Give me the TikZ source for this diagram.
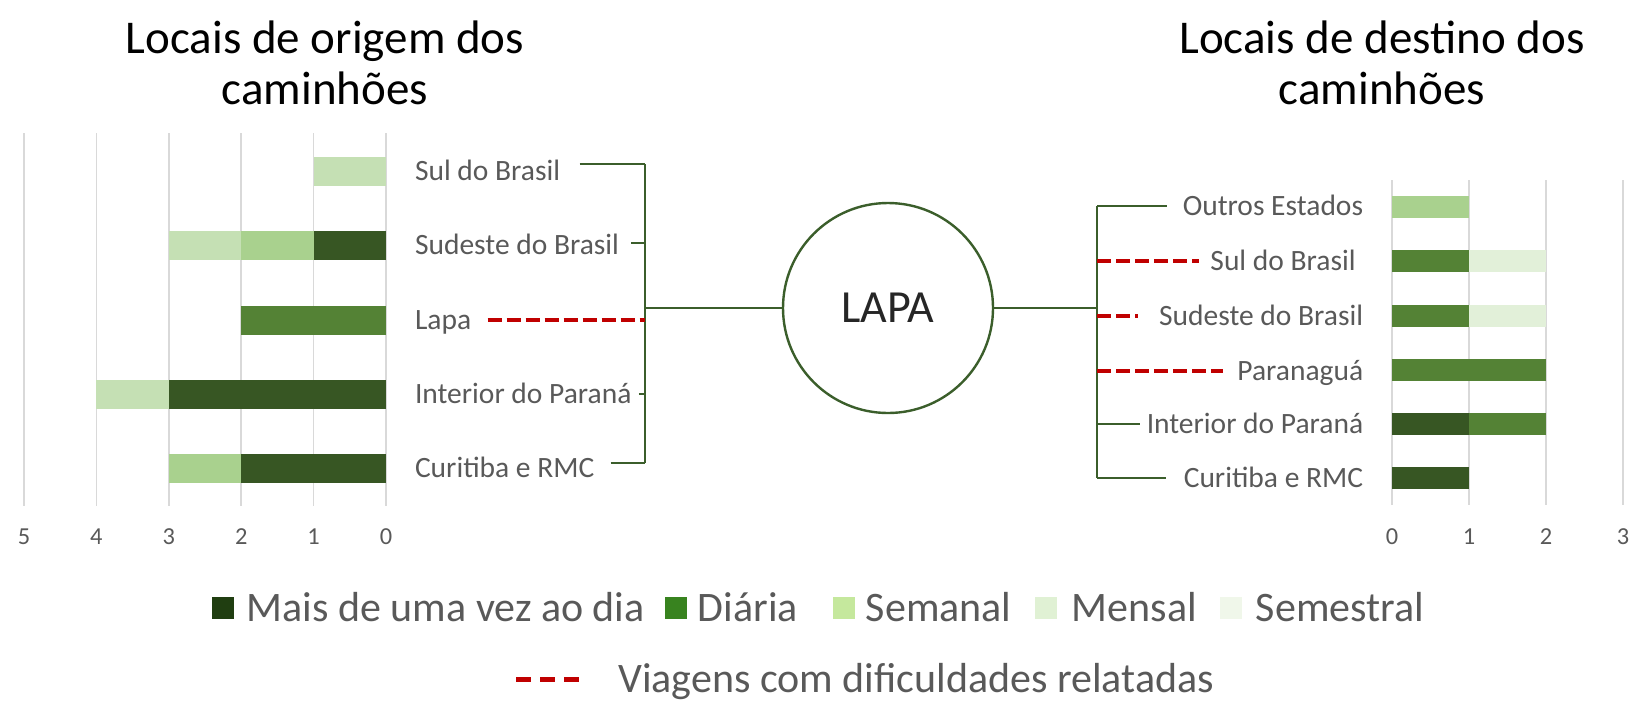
\documentclass[tikz,border=0pt]{standalone}
\usepackage{fontspec}
\setmainfont{Carlito}
\usepackage{tikz}
\usetikzlibrary{positioning}

\definecolor{barDark}{HTML}{375623}
\definecolor{barMid}{HTML}{548235}
\definecolor{barSem}{HTML}{A9D18E}
\definecolor{barMen}{HTML}{C5E0B4}
\definecolor{barSemes}{HTML}{E2F0D9}
\definecolor{legDark}{HTML}{203E11}
\definecolor{legDia}{HTML}{38831F}
\definecolor{legSem}{HTML}{C5E89D}
\definecolor{legMen}{HTML}{E0F1D4}
\definecolor{legSemes}{HTML}{F0F7EA}
\definecolor{linkGreen}{HTML}{3B5E2B}
\definecolor{hardRed}{HTML}{C00000}
\definecolor{gridGray}{HTML}{D9D9D9}
\definecolor{txtGray}{HTML}{595959}

\begin{document}
\begin{tikzpicture}[x=0.5pt, y=-0.5pt,
    % one unit is one pixel of the picture, counted from the top left corner
    gridline/.style={draw=gridGray, line width=0.8pt},
    axisnum/.style={font=\fontsize{12.2}{14}\selectfont, text=txtGray, inner sep=0pt},
    lbl/.style={font=\fontsize{14.75}{16}\selectfont, text=txtGray, inner sep=0pt,
        text height=9.4pt, text depth=0pt},
    link/.style={draw=linkGreen, line width=1.2pt},
    hard/.style={draw=hardRed, line width=1.6pt, dash pattern=on 7pt off 2.5pt},
    legbox/.style={minimum size=11pt, inner sep=0pt},
    keytext/.style={font=\fontsize{21}{24}\selectfont, text=txtGray, inner sep=0pt,
        anchor=west, text height=13.4pt, text depth=0pt},
    heading/.style={font=\fontsize{23.5}{25.5}\selectfont, align=center, inner sep=0pt}]

    \useasboundingbox (0,0) rectangle (1632,703);

    \node[heading] (origem) at (325,63) {Locais de origem dos\\caminhões};
    \node[heading] (destino) at (1382,63) {Locais de destino dos\\caminhões};

    % left chart grows to the left, so the x unit is negative here
    \begin{scope}[xshift=193pt, x=-36.2pt]
        \foreach \v in {0,...,5} {
            \draw[gridline] (\v,133) -- (\v,506);
            \node[axisnum] at (\v,537) {\v};
        }
        \fill[barMen] (0,156.5) rectangle (1,185.5);
        \fill[barDark] (0,231) rectangle (1,260);
        \fill[barSem] (1,231) rectangle (2,260);
        \fill[barMen] (2,231) rectangle (3,260);
        \fill[barMid] (0,305.5) rectangle (2,334.5);
        \fill[barDark] (0,379.5) rectangle (3,408.5);
        \fill[barMen] (3,379.5) rectangle (4,408.5);
        \fill[barDark] (0,453.5) rectangle (2,482.5);
        \fill[barSem] (2,453.5) rectangle (3,482.5);
    \end{scope}

    % right chart
    \begin{scope}[xshift=696pt, x=38.5pt]
        \foreach \v in {0,...,3} {
            \draw[gridline] (\v,180) -- (\v,505);
            \node[axisnum] at (\v,537) {\v};
        }
        \fill[barSem] (0,196) rectangle (1,218);
        \fill[barMid] (0,250) rectangle (1,272);
        \fill[barSemes] (1,250) rectangle (2,272);
        \fill[barMid] (0,305) rectangle (1,327);
        \fill[barSemes] (1,305) rectangle (2,327);
        \fill[barMid] (0,359) rectangle (2,381);
        \fill[barDark] (0,413) rectangle (1,435);
        \fill[barMid] (1,413) rectangle (2,435);
        \fill[barDark] (0,467) rectangle (1,489);
    \end{scope}

    % origin labels
    \node[lbl, anchor=west] (oSul) at (414.6,171) {Sul do Brasil};
    \node[lbl, anchor=west] (oSud) at (414.6,245.5) {Sudeste do Brasil};
    \node[lbl, anchor=west] (oLapa) at (414.6,320) {Lapa};
    \node[lbl, anchor=west] (oInt) at (414.6,394) {Interior do Paraná};
    \node[lbl, anchor=west] (oCur) at (414.6,468) {Curitiba e RMC};

    % destination labels
    \node[lbl, anchor=east] (dOut) at (1363.5,206) {Outros Estados};
    \node[lbl, anchor=east] (dSul) at (1356,261) {Sul do Brasil};
    \node[lbl, anchor=east] (dSud) at (1363.5,316) {Sudeste do Brasil};
    \node[lbl, anchor=east] (dPgua) at (1363.5,371) {Paranaguá};
    \node[lbl, anchor=east] (dInt) at (1363.5,424) {Interior do Paraná};
    \node[lbl, anchor=east] (dCur) at (1363.5,478) {Curitiba e RMC};

    \node[draw=linkGreen, line width=1.2pt, circle, minimum size=105pt, inner sep=0pt,
        font=\fontsize{23}{24}\selectfont, text=black!85] (lapa) at (888,308) {LAPA};

    \coordinate (ljoin) at (645,308);
    \coordinate (rjoin) at (1097,308);

    % the bracket on the left side, the ticks sit a little above the labels
    \draw[link, shorten <=9.5pt] ([yshift=3.5pt]oSul.east) -- ([yshift=3.5pt]oSul.east -| ljoin);
    \draw[link, shorten <=6pt] ([yshift=1.2pt]oSud.east) -- ([yshift=1.2pt]oSud.east -| ljoin);
    \draw[link, shorten <=3.5pt] (oInt.east) -- (oInt.east -| ljoin);
    \draw[link, shorten <=8pt] ([yshift=2.5pt]oCur.east) -- ([yshift=2.5pt]oCur.east -| ljoin);
    \draw[link] ([yshift=3.5pt]oSul.east -| ljoin) -- ([yshift=2.5pt]oCur.east -| ljoin);
    \draw[hard, shorten <=8pt] (oLapa.east) -- (oLapa.east -| ljoin);
    \draw[link] (ljoin) -- (lapa);

    % the bracket on the right side
    \draw[link] (lapa) -- (rjoin);
    \draw[link] (dOut.west -| rjoin) -- (dCur.west -| rjoin);
    \draw[link, shorten >=7.5pt] (dOut.west -| rjoin) -- (dOut.west);
    \draw[hard, shorten >=5.5pt] (dSul.west -| rjoin) -- (dSul.west);
    \draw[hard, shorten >=10.5pt] (dSud.west -| rjoin) -- (dSud.west);
    \draw[hard, shorten >=7pt] (dPgua.west -| rjoin) -- (dPgua.west);
    \draw[link, shorten >=3.25pt] (dInt.west -| rjoin) -- (dInt.west);
    \draw[link, shorten >=8.5pt] (dCur.west -| rjoin) -- (dCur.west);

    % legend
    \node[legbox, fill=legDark] (kDark) at (223,608) {};
    \node[keytext, right=6pt of kDark] (tDark) {Mais de uma vez ao dia};
    \node[legbox, fill=legDia] (kDia) at (676,608) {};
    \node[keytext, right=5pt of kDia] (tDia) {Diária};
    \node[legbox, fill=legSem] (kSem) at (844,608) {};
    \node[keytext, right=5pt of kSem] (tSem) {Semanal};
    \node[legbox, fill=legMen] (kMen) at (1046,608) {};
    \node[keytext, right=7pt of kMen] (tMen) {Mensal};
    \node[legbox, fill=legSemes] (kSemes) at (1231,608) {};
    \node[keytext, right=6.5pt of kSemes] (tSemes) {Semestral};

    \coordinate (hk1) at (516,679);
    \coordinate (hk2) at (579,679);
    \draw[hard, line width=2.5pt, dash pattern=on 7.5pt off 4.5pt] (hk1) -- (hk2);
    \node[keytext, right=19.5pt of hk2] (tHard) {Viagens com dificuldades relatadas};
\end{tikzpicture}
\end{document}
